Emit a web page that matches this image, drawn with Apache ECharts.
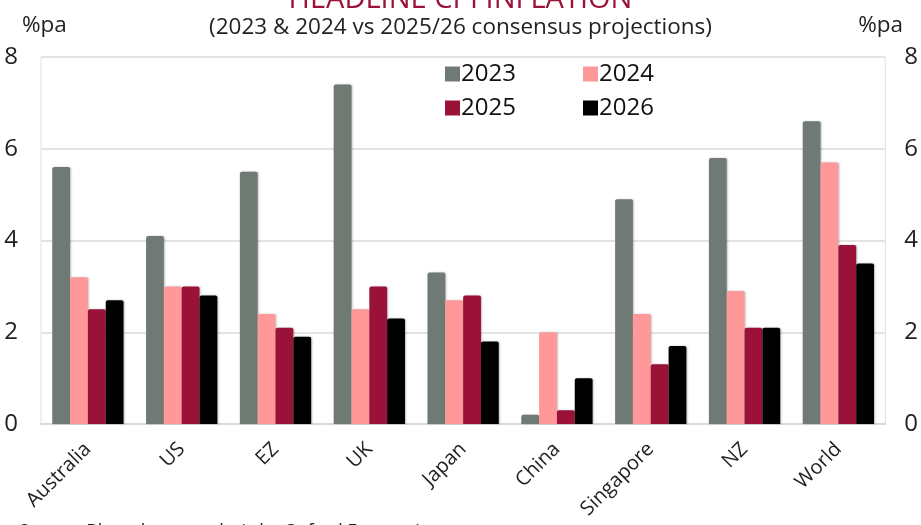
<!DOCTYPE html>
<html>
<head>
<meta charset="utf-8">
<script src="https://cdn.jsdelivr.net/npm/echarts@6/dist/echarts.min.js"></script>
<style>html,body{margin:0;padding:0;background:#fff;}#c{width:921px;height:525px;}</style>
</head>
<body>
<div id="c"></div>
<script>
const categories = ['Australia','US','EZ','UK','Japan','China','Singapore','NZ','World'];
const s2023 = [5.6, 4.1, 5.5, 7.4, 3.3, 0.2, 4.9, 5.8, 6.6];
const s2024 = [3.2, 3.0, 2.4, 2.5, 2.7, 2.0, 2.4, 2.9, 5.7];
const s2025 = [2.5, 3.0, 2.1, 3.0, 2.8, 0.3, 1.3, 2.1, 3.9];
const s2026 = [2.7, 2.8, 1.9, 2.3, 1.8, 1.0, 1.7, 2.1, 3.5];
const yTicks = [0, 2, 4, 6, 8];

const FONT = 'Open Sans';
const colors = {'2023':'#707a75','2024':'#ff9999','2025':'#9b1239','2026':'#000000'};
const chart = echarts.init(document.getElementById('c'));
function bar(name, data){
  return {name:name, type:'bar', data:data, barGap:'0%', barCategoryGap:'24%',
    itemStyle:{color:colors[name], borderRadius:[2,2,0,0], shadowColor:'rgba(0,0,0,0.25)', shadowBlur:2, shadowOffsetX:1}};
}
function leg(name, left, top){
  return {data:[name], left:left, top:top, itemWidth:15, itemHeight:15, icon:'rect', itemGap:5,
    textStyle:{fontFamily:FONT, fontSize:24, color:'#111', padding:[0,0,0,-4]}};
}
chart.setOption({
  animation:false,
  backgroundColor:'#fff',
  title:[
    {text:'HEADLINE CPI INFLATION', left:'center', top:-20, textStyle:{fontFamily:FONT, fontSize:29, fontWeight:'normal', color:'#9b1239'}},
    {text:'(2023 & 2024 vs 2025/26 consensus projections)', left:'center', top:11, textStyle:{fontFamily:FONT, fontSize:22.5, fontWeight:'normal', color:'#222'}},
    {text:'%pa', left:17, top:9, textStyle:{fontFamily:FONT, fontSize:22.5, fontWeight:'normal', color:'#222'}},
    {text:'%pa', right:13, top:9, textStyle:{fontFamily:FONT, fontSize:22.5, fontWeight:'normal', color:'#222'}},
    {text:'Source: Bloomberg, analysis by Oxford Economics', left:14, top:518, textStyle:{fontFamily:FONT, fontSize:18, fontWeight:'normal', color:'#222'}}
  ],
  legend:[leg('2023',440,57), leg('2024',578,57), leg('2025',440,91), leg('2026',578,91)],
  grid:{left:41, right:35, top:57, bottom:101, show:true, borderColor:'#e0e0e0', borderWidth:1},
  xAxis:{type:'category', data:categories,
    axisLine:{lineStyle:{color:'#d9d9d9', width:2}}, axisTick:{show:false},
    axisLabel:{rotate:45, fontFamily:FONT, fontSize:20, color:'#222', margin:22, interval:0}},
  yAxis:[
    {type:'value', min:yTicks[0], max:yTicks[yTicks.length-1], interval:2, position:'left',
      axisLine:{show:false}, axisTick:{show:false},
      splitLine:{lineStyle:{color:'#e3e3e3', width:2}},
      axisLabel:{fontFamily:FONT, fontSize:24, color:'#222', margin:23}},
    {type:'value', min:yTicks[0], max:yTicks[yTicks.length-1], interval:2, position:'right',
      axisLine:{show:false}, axisTick:{show:false}, splitLine:{show:false},
      axisLabel:{fontFamily:FONT, fontSize:24, color:'#222', margin:19}}
  ],
  series:[bar('2023',s2023), bar('2024',s2024), bar('2025',s2025), bar('2026',s2026)]
});
</script>
</body>
</html>
